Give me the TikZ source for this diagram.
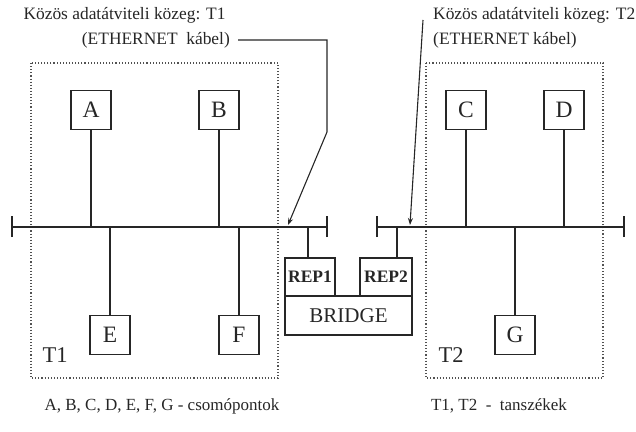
\documentclass[tikz,border=0pt]{standalone}
\usepackage{fontspec}
\setmainfont{Liberation Serif}
\usetikzlibrary{arrows.meta}
\definecolor{ink}{HTML}{262626}
\begin{document}
\begin{tikzpicture}[x=1pt,y=-1pt,
  every node/.style={text=ink},
  station/.style={draw=ink,line width=1.2pt,minimum width=40pt,minimum height=39pt,inner sep=0pt,font=\fontsize{23.5}{23.5}\selectfont},
  repbox/.style={draw=ink,line width=2.2pt,inner sep=0pt,font=\bfseries\fontsize{17.5}{17.5}\selectfont},
  lbl/.style={inner sep=0pt,font=\fontsize{17.4}{17.4}\selectfont},
  leglbl/.style={inner sep=0pt,font=\fontsize{17}{17}\selectfont},
  deptlbl/.style={inner sep=0pt,font=\fontsize{22.5}{22.5}\selectfont},
  dept/.style={draw=ink!80,dotted,line width=1.1pt},
  bus/.style={draw=ink,line width=2.6pt},
  stem/.style={draw=ink,line width=1.3pt},
  pointer/.style={draw=ink,line width=1.1pt,-{Stealth[length=7pt,width=5pt]}}
]
\useasboundingbox (0,0) rectangle (636,431);

% departments
\draw[dept] (31,63) rectangle (278,378);
\draw[dept] (426,63) rectangle (603,378);
\node[deptlbl] (T1) at (55,355) {T1};
\node[deptlbl] (T2) at (451,355) {T2};

% buses
\coordinate (b1l) at (12,227);
\coordinate (b1r) at (327,227);
\coordinate (b2l) at (377,227);
\coordinate (b2r) at (624,227);
\draw[bus] (b1l) -- (b1r);
\draw[bus] (b2l) -- (b2r);
\foreach \p in {b1l,b1r,b2l,b2r}{
  \draw[bus] ([yshift=-10pt]\p) -- ([yshift=11pt]\p);
}

% stations
\node[station] (A) at (91,110) {A};
\node[station] (B) at (219,110) {B};
\node[station] (C) at (466,110) {C};
\node[station] (D) at (564,110) {D};
\node[station] (E) at (110,335) {E};
\node[station] (F) at (239,335) {F};
\node[station] (G) at (515,335) {G};

\foreach \s in {A,B,C,D}{
  \draw[stem] (\s.south) -- (\s.south |- b1l);
}
\foreach \s in {E,F,G}{
  \draw[stem] (\s.north) -- (\s.north |- b1l);
}

% bridge
\node[repbox,minimum width=50pt,minimum height=38pt] (rep1) at (310,277) {REP1};
\node[repbox,minimum width=52pt,minimum height=38pt] (rep2) at (386,277) {REP2};
\node[repbox,minimum width=127pt,minimum height=39pt,font=\fontsize{21}{21}\selectfont] (bridge) at (348.5,315.5) {BRIDGE};
\coordinate (s1) at (308,227);
\coordinate (s2) at (397,227);
\draw[stem,line width=2pt] (s1) -- (s1 |- rep1.north);
\draw[stem,line width=2pt] (s2) -- (s2 |- rep2.north);

% top labels
\node[lbl] (m1a) at (124.5,15) {Közös adatátviteli közeg: T1};
\node[lbl,anchor=east] (m1b) at (230,40) {(ETHERNET\ \ kábel)};
\node[lbl,anchor=west] (m2a) at (433,15) {Közös adatátviteli közeg: T2};
\node[lbl,anchor=west] (m2b) at (433,40) {(ETHERNET kábel)};

% pointers
\coordinate (p1s) at (238,40);
\coordinate (p1t) at (288,225);
\coordinate (p2s) at (423,20);
\coordinate (p2t) at (410,225);
\draw[pointer] (p1s) -- (327,40) -- (327,132) -- (p1t);
\draw[pointer] (p2s) -- (p2t);

% legend
\node[leglbl] (leg1) at (162,406) {A, B, C, D, E, F, G\ -\ csomópontok};
\node[leglbl] (leg2) at (499,406) {T1, T2\ \ -\ \ tanszékek};
\end{tikzpicture}
\end{document}
